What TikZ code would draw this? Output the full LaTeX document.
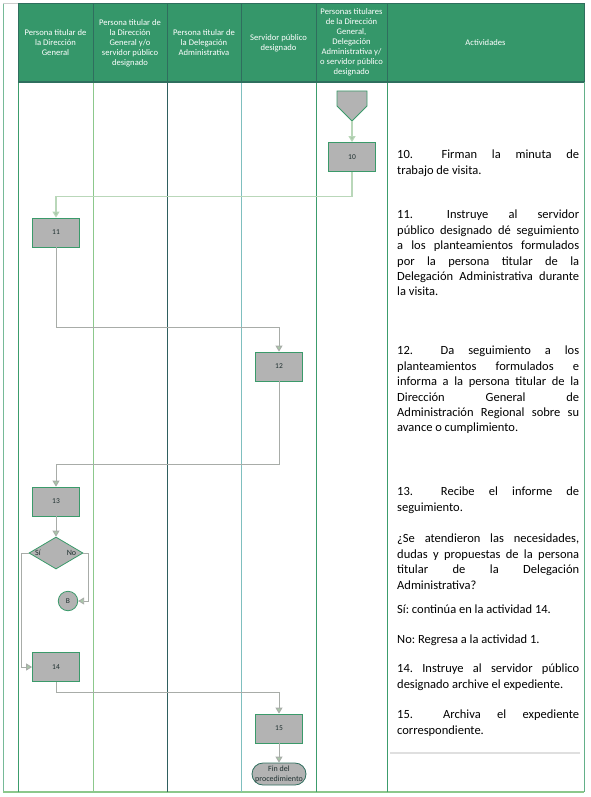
\documentclass[tikz,border=0pt]{standalone}
\usepackage{fontspec}
\setmainfont{Carlito}
\usetikzlibrary{arrows.meta,shapes.geometric}
\hyphenpenalty=10000
\exhyphenpenalty=10000
\tolerance=9999
\hbadness=10000
\frenchspacing
\definecolor{hdrfill}{HTML}{35976A}
\definecolor{hdrline}{HTML}{2F6E5E}
\definecolor{boxfill}{HTML}{B3B3B3}
\definecolor{boxline}{HTML}{3A9A6A}
\definecolor{connA}{HTML}{B9D7B9}
\definecolor{connB}{HTML}{A8ACA8}
\definecolor{tipc}{HTML}{A8C8A8}
\definecolor{laneA}{HTML}{3C9C6C}
\definecolor{laneB}{HTML}{8CC88C}
\definecolor{laneC}{HTML}{2F5F5F}
\definecolor{laneD}{HTML}{7FBFBF}
\definecolor{txtdark}{HTML}{1F3030}
\tikzset{
  hdrtext/.style={text=white, align=center, font=\fontsize{8.6}{10}\selectfont, inner sep=0pt},
  stepbox/.style={draw=boxline, fill=boxfill, line width=0.8pt, minimum width=47pt, minimum height=29pt, inner sep=0pt, font=\fontsize{7.5}{9}\selectfont, text=txtdark},
  decbox/.style={diamond, draw=boxline, fill=boxfill, line width=0.8pt, minimum width=54pt, minimum height=32pt, inner sep=0pt},
  conncirc/.style={circle, draw=boxline, fill=boxfill, line width=0.8pt, minimum size=19.5pt, inner sep=0pt, font=\fontsize{7.5}{9}\selectfont, text=txtdark},
  termbox/.style={draw=hdrline, fill=boxfill, line width=0.8pt, rounded corners=11pt, minimum width=54pt, minimum height=22pt, inner sep=0pt, align=center, font=\fontsize{8}{10}\selectfont, text=txtdark},
  smalllbl/.style={inner sep=0pt, font=\fontsize{8}{10}\selectfont, text=txtdark},
  conna/.style={draw=connA, line width=1.1pt, -{Triangle[width=7pt,length=6pt,fill=tipc]}},
  connb/.style={draw=connB, line width=0.9pt, -{Triangle[width=7pt,length=6pt,fill=tipc]}},
  act/.style={anchor=north west, inner sep=0pt, text width=182pt, align=justify, font=\fontsize{12.5}{15.4}\selectfont, text=black}
}
\begin{document}
\begin{tikzpicture}[x=1pt,y=-1pt]
\useasboundingbox (0,0) rectangle (590,797);
% outer frame
\draw[draw=laneA!70, line width=0.8pt] (3,3) -- (3,792);
\draw[draw=gray!40, line width=0.6pt] (3,3) -- (18,3);
\draw[draw=laneB, line width=1.4pt] (3,792) -- (584,792);
\draw[draw=laneA!80, line width=1pt] (584,82) -- (584,792);
% lanes
\draw[draw=laneA, line width=1pt] (18,82) -- (18,792);
\draw[draw=laneB, line width=1pt] (93,82) -- (93,792);
\draw[draw=laneC, line width=0.9pt] (167,82) -- (167,792);
\draw[draw=laneD, line width=1pt] (241,82) -- (241,792);
\draw[draw=laneA, line width=0.9pt] (316,82) -- (316,792);
\draw[draw=laneA, line width=1pt] (387,82) -- (387,792);
% header
\fill[hdrfill] (18,4) rectangle (584,82);
\draw[hdrline, line width=1pt] (18,4) rectangle (584,82);
\draw[hdrline, line width=1.4pt] (18,82) -- (584,82);
\foreach \xx in {93,167,241,316,387} \draw[hdrline, line width=1pt] (\xx,4) -- (\xx,82);
\node[hdrtext] (h1) at (55.5,43) {Persona titular de\\la Dirección\\General};
\node[hdrtext] (h2) at (130,43) {Persona titular de\\la Dirección\\General y/o\\servidor público\\designado};
\node[hdrtext] (h3) at (204,43) {Persona titular de\\la Delegación\\Administrativa};
\node[hdrtext] (h4) at (278.5,43) {Servidor público\\designado};
\node[hdrtext] (h5) at (351.5,42.5) {Personas titulares\\de la Dirección\\General,\\Delegación\\Administrativa y/\\o servidor público\\designado};
\node[hdrtext] (h6) at (485.5,43) {Actividades};
% off-page connector
\draw[draw=boxline, fill=boxfill, line width=0.8pt] (337,91) -- (367,91) -- (367,106) -- (352,121) -- (337,106) -- cycle;
\coordinate (opc) at (352,121);
% nodes
\node[stepbox] (b10) at (352,157) {10};
\node[stepbox] (b11) at (56,232.5) {11};
\node[stepbox] (b12) at (279,366.5) {12};
\node[stepbox] (b13) at (56,501.5) {13};
\node[decbox] (dec) at (56,553) {};
\node[smalllbl] (lsi) at (38,553) {Sí};
\node[smalllbl] (lno) at (71.5,553) {No};
\node[conncirc] (cB) at (68,601) {B};
\node[stepbox] (b14) at (56,667) {14};
\node[stepbox] (b15) at (279,728.5) {15};
\node[termbox] (fin) at (279,774) {Fin del\\procedimiento};
% connectors
\draw[conna] (opc) -- (b10.north);
\draw[conna] (b10.south) -- ++(0,25) -| (b11.north);
\draw[connb] (b11.south) -- ++(0,80) -| (b12.north);
\draw[connb] (b12.south) -- ++(0,83) -| (b13.north);
\draw[connb] (b13.south) -- (dec.north);
\draw[connb] (dec.west) -- ++(-7,0) |- (b14.west);
\draw[connb] (dec.east) -- ++(5,0) |- (cB.east);
\draw[connb] (b14.south) -- ++(0,11) -| (b15.north);
\draw[connb] (b15.south) -- (fin.north);
% activities
\node[act] (t10) at (397,150) {10.\hspace{1.1em} Firman la minuta de\linebreak trabajo de visita.};
\node[act] (t11) at (397,210) {11.\hspace{1.1em} Instruye al servidor\linebreak público designado dé seguimiento\linebreak a los planteamientos formulados\linebreak por la persona titular de la\linebreak Delegación Administrativa durante\linebreak la visita.};
\node[act] (t12) at (397,346) {12.\hspace{1.1em} Da seguimiento a los\linebreak planteamientos formulados e\linebreak informa a la persona titular de la\linebreak Dirección General de\linebreak Administración Regional sobre su\linebreak avance o cumplimiento.};
\node[act] (t13) at (397,487) {13.\hspace{1.1em} Recibe el informe de\linebreak seguimiento.};
\node[act] (tq) at (397,534) {¿Se atendieron las necesidades,\linebreak dudas y propuestas de la persona\linebreak titular de la Delegación\linebreak Administrativa?};
\node[act] (tsi) at (397,605) {Sí: continúa en la actividad 14.};
\node[act] (tno) at (397,634.5) {No: Regresa a la actividad 1.};
\node[act] (t14) at (397,664) {14. Instruye al servidor público\linebreak designado archive el expediente.};
\node[act] (t15) at (397,710) {15.\hspace{1.1em} Archiva el expediente\linebreak correspondiente.};
\draw[draw=gray!25, line width=1.5pt] (390,753) -- (580,753);
\end{tikzpicture}
\end{document}
